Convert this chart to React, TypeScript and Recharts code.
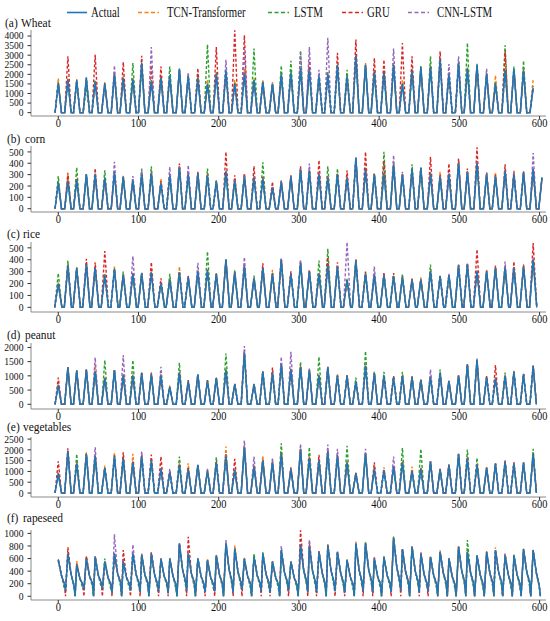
import { LineChart, Line, XAxis, YAxis } from "recharts";

// time index of every seasonal peak (shared by all six panels)
const cycleMonths = [
  0, 12, 23, 35, 46, 58, 70, 81, 93, 104,
  116, 128, 139, 151, 162, 174, 186, 197, 209, 220,
  232, 244, 255, 267, 278, 290, 302, 313, 325, 336,
  348, 360, 371, 383, 394, 406, 418, 429, 441, 452,
  464, 476, 487, 499, 510, 522, 534, 545, 557, 568,
  580, 592, 603,
];

const xTicks = [0, 100, 200, 300, 400, 500, 600];

// (a) wheat
const wheatActual = [
  1550, 1700, 1700, 1850, 1600, 1550, 2000, 1800, 1750, 2600,
  1600, 1800, 1950, 2300, 1900, 1800, 1500, 2000, 2200, 1500,
  2000, 1700, 1600, 1500, 2000, 2100, 2300, 2200, 1900, 2000,
  2500, 1900, 3000, 2500, 2100, 2100, 2500, 1500, 2200, 2400,
  2400, 2800, 2000, 2600, 2300, 2500, 2000, 1500, 2200, 2300,
  2200, 1300,
];
const wheatTcn = [
  1800, 1750, 1750, 1700, 1650, 1600, 2100, 1900, 1800, 2400,
  1700, 1900, 1900, 2200, 1950, 1900, 1700, 2100, 2100, 1700,
  2300, 1800, 1700, 1600, 2100, 2200, 2400, 2300, 2000, 2100,
  2400, 2000, 2900, 2600, 2200, 2200, 2600, 1700, 2300, 2300,
  2500, 2700, 2100, 2500, 2400, 2400, 2100, 1950, 2300, 2200,
  2300, 1750,
];
const wheatLstm = [
  1600, 1800, 1650, 1300, 1700, 1500, 2100, 1850, 2590, 2500,
  1700, 1850, 2410, 2250, 1950, 2060, 3560, 2100, 2250, 1600,
  2100, 3350, 1650, 1550, 2460, 2710, 3240, 2250, 2000, 2100,
  2450, 2240, 3000, 2450, 2150, 2150, 2450, 1550, 2250, 2450,
  2940, 2750, 2050, 2650, 3640, 2550, 2050, 1600, 3520, 2410,
  2710, 1400,
];
const wheatGru = [
  1500, 2940, 1650, 1800, 3030, 1500, 1950, 2640, 1700, 2970,
  2460, 2410, 1900, 2250, 1850, 2320, 1450, 3420, 2150, 4300,
  4050, 1650, 1550, 1450, 1950, 2050, 2250, 2710, 1850, 1950,
  3120, 1850, 3820, 2450, 2850, 2760, 2450, 3640, 2940, 2350,
  2350, 3200, 1950, 2550, 2250, 2450, 1950, 1450, 3200, 2250,
  2150, 1250,
];
const wheatCnn = [
  1450, 1650, 1600, 1750, 1550, 1450, 2460, 1750, 1650, 2550,
  3420, 1750, 1850, 2250, 2110, 1750, 1450, 1950, 2760, 1450,
  3350, 1650, 1550, 1450, 1950, 2050, 3150, 3420, 2240, 3910,
  2450, 1850, 2950, 2450, 2050, 2050, 3350, 1450, 2150, 2350,
  2350, 2750, 2540, 2940, 2250, 2450, 2290, 1450, 2150, 2250,
  2150, 1250,
];

// (b) corn (last value: the rise cut off at the right edge)
const cornActual = [
  230, 240, 250, 305, 300, 270, 320, 280, 250, 300,
  310, 220, 290, 360, 300, 310, 290, 240, 330, 240,
  280, 270, 260, 180, 230, 280, 340, 330, 300, 270,
  300, 270, 450, 340, 300, 300, 380, 300, 350, 360,
  300, 280, 300, 400, 320, 400, 300, 280, 330, 300,
  320, 350, 275,
];
const cornTcn = [
  240, 300, 260, 300, 290, 280, 310, 290, 260, 310,
  300, 266, 300, 380, 310, 300, 300, 245, 320, 270,
  310, 290, 270, 190, 240, 290, 350, 340, 310, 280,
  310, 290, 440, 330, 305, 310, 370, 310, 340, 350,
  310, 325, 310, 410, 330, 420, 310, 319, 340, 310,
  320, 340, 270,
];
const cornLstm = [
  287, 250, 363, 300, 310, 339, 330, 285, 260, 340,
  374, 230, 300, 370, 310, 320, 354, 250, 330, 250,
  290, 290, 409, 200, 250, 290, 350, 340, 310, 374,
  354, 280, 440, 360, 310, 500, 390, 310, 392, 360,
  320, 290, 310, 410, 330, 410, 320, 290, 340, 310,
  330, 320, 285,
];
const cornGru = [
  230, 316, 260, 300, 354, 266, 310, 280, 250, 300,
  320, 240, 290, 398, 320, 325, 300, 240, 500, 295,
  310, 374, 280, 237, 240, 295, 374, 340, 427, 290,
  310, 339, 440, 500, 310, 420, 390, 300, 350, 360,
  456, 300, 398, 442, 354, 540, 310, 300, 392, 333,
  320, 360, 265,
];
const cornCnn = [
  225, 240, 250, 300, 300, 270, 412, 280, 287, 354,
  320, 230, 368, 370, 383, 310, 290, 240, 330, 250,
  290, 280, 270, 190, 240, 285, 360, 398, 310, 280,
  300, 280, 450, 340, 300, 310, 471, 325, 350, 360,
  310, 290, 310, 400, 320, 410, 310, 290, 340, 310,
  325, 491, 270,
];

// (c) rice
const riceActual = [
  197, 350, 330, 360, 330, 270, 320, 270, 280, 285,
  290, 200, 230, 290, 250, 300, 310, 280, 400, 290,
  340, 240, 330, 280, 400, 280, 370, 300, 280, 350,
  340, 230, 390, 280, 270, 270, 260, 250, 230, 230,
  300, 260, 270, 350, 360, 300, 300, 330, 330, 330,
  340, 400,
];
const riceTcn = [
  210, 360, 337, 365, 340, 280, 343, 280, 290, 290,
  300, 210, 240, 343, 260, 310, 320, 287, 400, 300,
  350, 250, 340, 315, 400, 290, 380, 310, 290, 360,
  350, 240, 395, 290, 280, 280, 270, 260, 240, 253,
  310, 265, 275, 355, 365, 310, 315, 340, 340, 340,
  350, 410,
];
const riceLstm = [
  287, 393, 335, 370, 335, 280, 330, 301, 285, 290,
  300, 210, 281, 300, 260, 310, 469, 285, 405, 315,
  345, 267, 335, 290, 405, 285, 375, 305, 393, 492,
  345, 240, 400, 290, 275, 280, 265, 281, 235, 240,
  360, 265, 275, 355, 365, 310, 305, 335, 340, 335,
  345, 400,
];
const riceGru = [
  200, 355, 330, 407, 379, 472, 325, 275, 285, 287,
  379, 244, 235, 295, 267, 305, 315, 280, 400, 295,
  345, 245, 371, 285, 405, 303, 390, 315, 285, 420,
  379, 230, 407, 301, 280, 295, 287, 255, 244, 240,
  305, 262, 270, 360, 371, 486, 310, 351, 335, 385,
  360, 541,
];
const riceCnn = [
  195, 350, 330, 365, 335, 275, 320, 275, 430, 287,
  295, 205, 235, 295, 255, 374, 315, 282, 400, 292,
  421, 245, 335, 283, 415, 285, 393, 305, 285, 355,
  345, 548, 400, 285, 343, 275, 265, 255, 235, 235,
  305, 262, 281, 360, 365, 305, 305, 335, 385, 335,
  345, 410,
];

// (d) peanut
const peanutActual = [
  670, 1300, 1180, 1220, 1140, 900, 1200, 1000, 1000, 1100,
  1050, 1000, 600, 1100, 800, 1050, 820, 920, 1200, 700,
  1800, 700, 1150, 1100, 1400, 1200, 1300, 1200, 1000, 1300,
  1000, 1000, 800, 1350, 1100, 1000, 950, 1000, 950, 850,
  950, 1100, 820, 1000, 1400, 1550, 950, 900, 1000, 1150,
  1050, 1350,
];
const peanutTcn = [
  700, 1310, 1190, 1230, 1376, 950, 1210, 1023, 1050, 1110,
  1070, 1050, 670, 1150, 820, 1060, 840, 940, 1250, 729,
  1850, 729, 1170, 1150, 1450, 1250, 1350, 1220, 1050, 1320,
  1058, 1023, 830, 1376, 1120, 1050, 988, 1050, 988, 870,
  1000, 1150, 847, 1023, 1411, 1580, 988, 950, 1050, 1176,
  1082, 1376,
];
const peanutLstm = [
  650, 1290, 1200, 1210, 1150, 1552, 1190, 1050, 1552, 1090,
  1060, 1050, 620, 1458, 810, 1040, 830, 930, 1787, 710,
  1820, 720, 1160, 1120, 1450, 1250, 1493, 1210, 1670, 1300,
  1020, 1010, 940, 1870, 1140, 1140, 970, 1140, 960, 860,
  980, 1223, 830, 1010, 1400, 1560, 960, 920, 1117, 1150,
  1060, 1340,
];
const peanutGru = [
  940, 1317, 1180, 1215, 1150, 940, 1200, 1010, 1020, 1140,
  1117, 1020, 610, 1110, 847, 1050, 847, 940, 1210, 710,
  1830, 710, 1160, 1293, 1420, 1220, 1320, 1200, 1020, 1310,
  1010, 1023, 810, 1360, 1100, 1010, 988, 1010, 988, 870,
  960, 1100, 830, 1023, 1411, 1550, 988, 1376, 1010, 1160,
  1060, 1360,
];
const peanutCnn = [
  660, 1300, 1185, 1223, 1646, 920, 1223, 1729, 1020, 1100,
  1060, 1317, 600, 1110, 800, 1050, 820, 920, 1210, 700,
  2046, 700, 1160, 1110, 1670, 1846, 1310, 1258, 1020, 1340,
  1010, 1000, 800, 1360, 1100, 1010, 950, 1010, 950, 850,
  1223, 1110, 820, 1000, 1400, 1611, 950, 910, 1010, 1150,
  1082, 1350,
];

// (e) vegetables
const vegActual = [
  915, 1950, 1350, 1800, 1700, 1150, 1700, 1600, 1400, 1700,
  1500, 1100, 950, 1300, 1100, 1300, 1000, 1400, 1700, 1050,
  2100, 1200, 1500, 1400, 1800, 1100, 2000, 1600, 1500, 1900,
  1700, 1400, 900, 1800, 1100, 1050, 1200, 1400, 1000, 1100,
  1450, 1080, 1300, 1800, 1600, 1300, 1150, 1350, 1450, 1350,
  1400, 1800,
];
const vegTcn = [
  950, 1980, 1400, 1890, 1750, 1270, 1860, 1700, 1813, 1750,
  1550, 1200, 1000, 1400, 1380, 1317, 1050, 1450, 2155, 1100,
  2150, 1300, 1736, 1450, 1900, 1150, 2050, 1700, 1550, 1950,
  1750, 1500, 950, 1850, 1150, 1194, 1250, 1500, 1224, 1150,
  1470, 1116, 1317, 1813, 1700, 1350, 1194, 1380, 1500, 1380,
  1420, 1850,
];
const vegLstm = [
  900, 1960, 1813, 1820, 1720, 1180, 1720, 1620, 1450, 1720,
  1520, 1150, 980, 1690, 1150, 1310, 1050, 1660, 1800, 1080,
  2150, 1250, 1550, 1450, 2310, 1150, 2050, 2120, 1550, 1950,
  1750, 2185, 920, 1850, 1150, 1100, 1250, 2092, 1050, 2046,
  1460, 1100, 1310, 1810, 2015, 1628, 1180, 1360, 1470, 1360,
  1420, 2046,
];
const vegGru = [
  1470, 2077, 1400, 1820, 1750, 1200, 1750, 1890, 1500, 1750,
  1780, 1690, 980, 1350, 1150, 1300, 1050, 1450, 1800, 1580,
  2150, 1250, 1550, 1450, 1850, 1194, 2050, 1650, 1767, 1950,
  1750, 1450, 950, 1850, 1426, 1100, 1250, 1450, 1050, 1150,
  1470, 1116, 1317, 1813, 1650, 1350, 1194, 1380, 1503, 1426,
  1400, 1850,
];
const vegCnn = [
  920, 1960, 1380, 1810, 2120, 1160, 1710, 1620, 1420, 1937,
  1520, 1120, 1116, 1320, 1120, 1310, 1116, 1420, 1750, 1060,
  2433, 1690, 1520, 1628, 1820, 1120, 2280, 1620, 1520, 2250,
  2046, 1420, 920, 2046, 1120, 1060, 1690, 1420, 1020, 1120,
  1460, 1090, 1310, 1810, 1620, 1320, 1160, 1360, 1460, 1426,
  1400, 1820,
];

// (f) rapeseed: peaks, then the decay after each peak
const rapeActual = [
  585, 680, 495, 600, 628, 550, 680, 550, 680, 665,
  680, 600, 600, 840, 680, 600, 575, 650, 840, 760,
  600, 628, 680, 550, 735, 550, 814, 787, 707, 814,
  707, 575, 840, 840, 600, 628, 930, 750, 787, 680,
  628, 707, 600, 787, 707, 650, 707, 735, 650, 650,
  750, 735,
];
const rapeMid = [
  330, 350, 280, 320, 330, 300, 360, 300, 350, 340,
  350, 320, 320, 420, 360, 320, 300, 340, 420, 390,
  320, 330, 350, 300, 380, 300, 410, 400, 370, 410,
  370, 310, 420, 420, 320, 330, 460, 390, 400, 350,
  330, 370, 320, 400, 370, 340, 370, 380, 340, 340,
  390, 370,
];
const rapeTail = [
  200, 180, 190, 210, 220, 190, 230, 200, 210, 220,
  200, 210, 190, 250, 220, 200, 190, 210, 240, 230,
  200, 210, 220, 190, 230, 190, 240, 230, 210, 240,
  220, 190, 240, 250, 200, 210, 260, 230, 240, 210,
  200, 220, 190, 240, 220, 200, 220, 230, 200, 200,
  230, 180,
];
const rapeLow = [
  90, 0, 110, 0, 120, 60, 0, 90, 70, 0,
  80, 50, 0, 90, 0, 70, 80, 0, 60, 100,
  0, 80, 60, 0, 90, 0, 70, 60, 0, 80,
  60, 0, 80, 60, 0, 70, 90, 0, 60, 80,
  0, 0, 0, 0, 0, 0, 0, 0, 0, 0,
  0, 0,
];
const rapeGruLow = [
  0, 60, 0, 80, 0, 0, 40, 0, 0, 60,
  0, 0, 50, 0, 60, 0, 0, 40, 0, 0,
  60, 0, 0, 40, 0, 50, 0, 0, 60, 0,
  0, 50, 0, 0, 40, 0, 0, 60, 0, 0,
  50, 0, 0, 40, 0, 0, 60, 0, 0, 40,
  0, 0,
];
const rapeLstmTail = [
  130, 150, 120, 160, 140, 110, 170, 130, 150, 160,
  140, 150, 120, 180, 150, 130, 120, 150, 170, 160,
  130, 150, 160, 120, 170, 120, 170, 160, 150, 170,
  160, 120, 170, 180, 130, 150, 190, 160, 170, 150,
  130, 160, 120, 170, 150, 130, 160, 170, 130, 130,
  160, 150,
];
const rapeTcn = [
  585, 700, 560, 640, 640, 560, 700, 560, 690, 680,
  690, 610, 610, 850, 690, 610, 590, 660, 850, 814,
  610, 640, 690, 560, 745, 560, 830, 800, 720, 830,
  720, 590, 870, 850, 610, 640, 940, 760, 800, 690,
  640, 730, 610, 800, 720, 660, 720, 780, 660, 660,
  760, 740,
];
const rapeLstm = [
  570, 660, 500, 590, 620, 600, 670, 560, 670, 655,
  670, 590, 600, 830, 670, 590, 570, 640, 830, 750,
  590, 680, 700, 550, 725, 550, 800, 780, 700, 810,
  700, 580, 830, 870, 600, 620, 950, 740, 780, 680,
  620, 700, 600, 780, 894, 640, 700, 720, 640, 660,
  740, 730,
];
const rapeGru = [
  560, 780, 520, 640, 620, 540, 650, 735, 660, 650,
  700, 590, 600, 830, 947, 600, 570, 640, 830, 750,
  590, 620, 670, 550, 720, 540, 1050, 860, 720, 810,
  690, 570, 830, 830, 620, 620, 920, 740, 780, 700,
  620, 700, 600, 780, 700, 640, 700, 720, 680, 640,
  740, 730,
];
const rapeCnn = [
  580, 670, 500, 600, 640, 560, 985, 560, 820, 660,
  680, 600, 600, 840, 680, 600, 570, 650, 894, 760,
  600, 620, 680, 550, 800, 550, 814, 900, 700, 814,
  700, 575, 840, 840, 600, 620, 930, 750, 790, 680,
  620, 710, 600, 790, 700, 650, 700, 735, 650, 650,
  750, 735,
];

const FONT = '"Liberation Serif", "Times New Roman", serif';
const BOX = "#8a8a8a";
const X_DOMAIN = [-34, 608];

const SERIES = [
  { key: "tcn", name: "TCN-Transformer", color: "#ff7f0e", dashed: true },
  { key: "lstm", name: "LSTM", color: "#2ca02c", dashed: true },
  { key: "gru", name: "GRU", color: "#d62728", dashed: true },
  { key: "cnn", name: "CNN-LSTM", color: "#9467bd", dashed: true },
  { key: "actual", name: "Actual", color: "#1f77b4", dashed: false },
];

type Set5 = { actual: number[]; tcn: number[]; lstm: number[]; gru: number[]; cnn: number[] };
type Key = keyof Set5;
const KEYS: Key[] = ["actual", "tcn", "lstm", "gru", "cnn"];

const pick = (s: Set5, i: number) => {
  const r: any = {};
  KEYS.forEach((k) => (r[k] = s[k][i]));
  return r;
};
const zeros = { actual: 0, tcn: 0, lstm: 0, gru: 0, cnn: 0 };

// harvest spikes: zero outside the season, one peak per cycle
function spikeRows(s: Set5, half: number, closeEnd: boolean) {
  const rows: any[] = [];
  const n = s.actual.length;
  for (let i = 0; i < n; i++) {
    const m = cycleMonths[i];
    rows.push({ x: m - half, ...zeros });
    rows.push({ x: m, ...pick(s, i) });
    if (i < n - 1 || closeEnd) rows.push({ x: m + half, ...zeros });
  }
  return rows;
}

// rapeseed: peak, slow decay, dip, next peak
type Decay = { mid: number[]; tail: number[]; low: number[] };
function sawRows(s: Set5, decay: Record<Key, Decay>) {
  const rows: any[] = [];
  const at = (step: "mid" | "tail" | "low", i: number) => {
    const r: any = {};
    KEYS.forEach((k) => (r[k] = decay[k][step][i]));
    return r;
  };
  for (let i = 0; i < s.actual.length; i++) {
    const m = cycleMonths[i];
    rows.push({ x: m, ...pick(s, i) });
    rows.push({ x: m + 4, ...at("mid", i) });
    rows.push({ x: m + 7.5, ...at("tail", i) });
    rows.push({ x: m + 9, ...at("low", i) });
  }
  return rows;
}

const baseDecay: Decay = { mid: rapeMid, tail: rapeTail, low: rapeLow };

const panels = [
  {
    tag: "(a)", name: "Wheat", tagX: 5, nameX: 21, titleY: 26.5, top: 30, bottom: 116, yFont: 9.5,
    domain: [-175, 4315], yTicks: [0, 500, 1000, 1500, 2000, 2500, 3000, 3500, 4000],
    rows: spikeRows({ actual: wheatActual, tcn: wheatTcn, lstm: wheatLstm, gru: wheatGru, cnn: wheatCnn }, 4, false),
  },
  {
    tag: "(b)", name: "corn", tagX: 7, nameX: 25, titleY: 142.5, top: 146, bottom: 212, yFont: 10.5,
    domain: [-29, 552], yTicks: [0, 100, 200, 300, 400, 500],
    rows: spikeRows({ actual: cornActual, tcn: cornTcn, lstm: cornLstm, gru: cornGru, cnn: cornCnn }, 4, false),
  },
  {
    tag: "(c)", name: "rice", tagX: 7, nameX: 23, titleY: 237.5, top: 242, bottom: 312, yFont: 10.5,
    domain: [-39, 549], yTicks: [0, 100, 200, 300, 400, 500],
    rows: spikeRows({ actual: riceActual, tcn: riceTcn, lstm: riceLstm, gru: riceGru, cnn: riceCnn }, 4.5, true),
  },
  {
    tag: "(d)", name: "peanut", tagX: 7, nameX: 25, titleY: 338.5, top: 343, bottom: 409, yFont: 10.5,
    domain: [-165, 2155], yTicks: [0, 500, 1000, 1500, 2000],
    rows: spikeRows({ actual: peanutActual, tcn: peanutTcn, lstm: peanutLstm, gru: peanutGru, cnn: peanutCnn }, 4, true),
  },
  {
    tag: "(e)", name: "vegetables", tagX: 7, nameX: 23, titleY: 431, top: 437, bottom: 497, yFont: 10.5,
    domain: [-186, 2597], yTicks: [0, 500, 1000, 1500, 2000, 2500],
    rows: spikeRows({ actual: vegActual, tcn: vegTcn, lstm: vegLstm, gru: vegGru, cnn: vegCnn }, 4, true),
  },
  {
    tag: "(f)", name: "rapeseed", tagX: 7, nameX: 23, titleY: 521.5, top: 530, bottom: 600, yFont: 10.5,
    domain: [-59, 1054], yTicks: [0, 200, 400, 600, 800, 1000],
    rows: sawRows(
      { actual: rapeActual, tcn: rapeTcn, lstm: rapeLstm, gru: rapeGru, cnn: rapeCnn },
      {
        actual: baseDecay,
        tcn: baseDecay,
        lstm: { mid: rapeMid, tail: rapeLstmTail, low: rapeLow },
        gru: { mid: rapeMid, tail: rapeTail, low: rapeGruLow },
        cnn: baseDecay,
      }
    ),
  },
];

function XTick({ x, y, payload }: any) {
  return (
    <g transform={`translate(${x},${y})`}>
      <text transform="scale(0.8,1)" textAnchor="middle" dy="0.62em" fontSize={13} fontFamily={FONT} fill="#111">
        {payload.value}
      </text>
    </g>
  );
}

function YTick({ x, y, payload, size }: any) {
  const sx = size < 10 ? 1.0 : 0.92;
  return (
    <g transform={`translate(${x},${y})`}>
      <text transform={`scale(${sx},1)`} textAnchor="end" dy="0.35em" fontSize={size} fontFamily={FONT} fill="#111">
        {payload.value}
      </text>
    </g>
  );
}

function Panel({ p }: { p: (typeof panels)[number] }) {
  const h = p.bottom - p.top;
  return (
    <div style={{ position: "absolute", left: 0, top: p.top - 5 }}>
      <LineChart width={550} height={h + 5 + 20} data={p.rows} margin={{ top: 5, right: 4, bottom: 0, left: 0 }}>
        <XAxis
          dataKey="x" type="number" domain={X_DOMAIN} ticks={xTicks} interval={0} allowDataOverflow
          height={20} tick={<XTick />} tickSize={3} tickMargin={0}
          tickLine={{ stroke: "#333" }} axisLine={{ stroke: BOX }}
        />
        <XAxis
          xAxisId="top" orientation="top" dataKey="x" type="number" domain={X_DOMAIN} allowDataOverflow
          height={0} tick={false} tickLine={false} axisLine={{ stroke: BOX }}
        />
        <YAxis
          type="number" domain={p.domain} ticks={p.yTicks} interval={0} allowDataOverflow
          width={31} tick={<YTick size={p.yFont} />} tickSize={3.5} tickMargin={4}
          tickLine={{ stroke: "#333" }} axisLine={{ stroke: BOX }}
        />
        <YAxis
          yAxisId="right" orientation="right" type="number" domain={p.domain} allowDataOverflow
          width={0} tick={false} tickLine={false} axisLine={{ stroke: BOX }}
        />
        {SERIES.map((s) => (
          <Line
            key={s.key}
            type="linear"
            dataKey={s.key}
            stroke={s.color}
            strokeWidth={s.dashed ? 1.4 : 1.5}
            strokeDasharray={s.dashed ? "3 2" : undefined}
            dot={false}
            isAnimationActive={false}
          />
        ))}
      </LineChart>
    </div>
  );
}

const legendItems = [
  { key: "actual", x1: 67, x2: 87, tx: 91 },
  { key: "tcn", x1: 138, x2: 159, tx: 167 },
  { key: "lstm", x1: 268, x2: 289, tx: 294 },
  { key: "gru", x1: 342, x2: 363, tx: 367 },
  { key: "cnn", x1: 408, x2: 429, tx: 437 },
];

export default function App() {
  return (
    <div style={{ position: "absolute", left: 0, top: 0, width: 550, height: 621, background: "#fff", overflow: "hidden" }}>
      {panels.map((p) => (
        <Panel key={p.tag} p={p} />
      ))}
      <svg width={550} height={621} style={{ position: "absolute", left: 0, top: 0, pointerEvents: "none" }}>
        {legendItems.map((it) => {
          const s = SERIES.find((d) => d.key === it.key)!;
          return (
            <g key={it.key}>
              <line
                x1={it.x1} x2={it.x2} y1={12.5} y2={12.5} stroke={s.color} strokeWidth={1.6}
                strokeDasharray={s.dashed ? "4 2.5" : undefined}
              />
              <text transform={`translate(${it.tx},17) scale(0.77,1)`} fontSize={14} fontFamily={FONT} fill="#111">
                {s.name}
              </text>
            </g>
          );
        })}
        {panels.map((p) => (
          <g key={p.tag}>
            <text transform={`translate(${p.tagX},${p.titleY}) scale(0.88,1)`} fontSize={13} fontFamily={FONT} fill="#111">
              {p.tag}
            </text>
            <text transform={`translate(${p.nameX},${p.titleY}) scale(0.88,1)`} fontSize={13} fontFamily={FONT} fill="#111">
              {p.name}
            </text>
          </g>
        ))}
      </svg>
    </div>
  );
}
